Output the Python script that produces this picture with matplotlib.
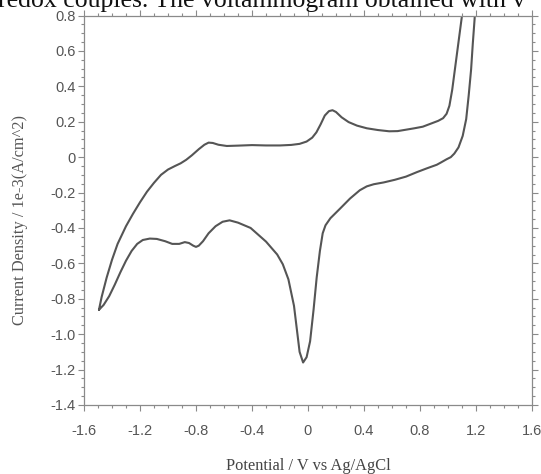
import matplotlib
matplotlib.use("Agg")
import matplotlib.pyplot as plt
from matplotlib.ticker import MultipleLocator, FixedLocator, FixedFormatter

# ---- data ----
anodic_V = [-1.493, -1.474, -1.438, -1.40, -1.36, -1.30, -1.25, -1.20, -1.15, -1.10,
            -1.05, -1.00, -0.95, -0.91, -0.87, -0.83, -0.78, -0.74, -0.71, -0.68,
            -0.64, -0.58, -0.50, -0.40, -0.30, -0.20, -0.12, -0.06, -0.01, 0.03,
            0.06, 0.09, 0.12, 0.15, 0.175, 0.20, 0.24, 0.29, 0.35, 0.42,
            0.50, 0.58, 0.64, 0.70, 0.76, 0.82, 0.88, 0.93, 0.965, 0.99,
            1.01, 1.03, 1.05, 1.07, 1.09, 1.11, 1.12]
anodic_I = [-0.862, -0.79, -0.68, -0.58, -0.49, -0.39, -0.32, -0.255, -0.195, -0.145,
            -0.10, -0.07, -0.05, -0.035, -0.015, 0.01, 0.045, 0.07, 0.082, 0.08,
            0.07, 0.063, 0.065, 0.068, 0.066, 0.066, 0.069, 0.075, 0.088, 0.11,
            0.14, 0.185, 0.235, 0.26, 0.265, 0.255, 0.225, 0.198, 0.178, 0.163,
            0.153, 0.146, 0.147, 0.155, 0.163, 0.172, 0.19, 0.205, 0.22, 0.245,
            0.29, 0.38, 0.50, 0.62, 0.74, 0.86, 0.92]

cathodic_V = [1.20, 1.19, 1.177, 1.165, 1.148, 1.13, 1.105, 1.075, 1.045, 1.02,
              0.99, 0.95, 0.92, 0.85, 0.78, 0.70, 0.62, 0.54, 0.47, 0.42,
              0.37, 0.30, 0.23, 0.16, 0.125, 0.105, 0.085, 0.062, 0.04, 0.015,
              -0.01, -0.035, -0.06, -0.08, -0.10, -0.14, -0.18, -0.22, -0.30, -0.41,
              -0.50, -0.56, -0.61, -0.66, -0.71, -0.75, -0.78, -0.80, -0.82, -0.85,
              -0.88, -0.92, -0.97, -1.02, -1.08, -1.13, -1.18, -1.22, -1.26, -1.30,
              -1.34, -1.38, -1.42, -1.46, -1.493]
cathodic_I = [0.92, 0.78, 0.64, 0.495, 0.35, 0.215, 0.12, 0.055, 0.02, 0.0,
              -0.012, -0.03, -0.043, -0.063, -0.084, -0.11, -0.128, -0.143, -0.153, -0.165,
              -0.187, -0.234, -0.29, -0.345, -0.385, -0.43, -0.53, -0.68, -0.86, -1.04,
              -1.13, -1.16, -1.10, -0.97, -0.84, -0.69, -0.605, -0.55, -0.477, -0.40,
              -0.37, -0.357, -0.365, -0.39, -0.43, -0.475, -0.50, -0.507, -0.50, -0.485,
              -0.48, -0.49, -0.49, -0.475, -0.462, -0.46, -0.468, -0.49, -0.53, -0.585,
              -0.65, -0.72, -0.785, -0.835, -0.862]

x_ticks = [-1.6, -1.2, -0.8, -0.4, 0.0, 0.4, 0.8, 1.2, 1.6]
x_tick_labels = ["-1.6", "-1.2", "-0.8", "-0.4", "0", "0.4", "0.8", "1.2", "1.6"]
y_ticks = [0.8, 0.6, 0.4, 0.2, 0.0, -0.2, -0.4, -0.6, -0.8, -1.0, -1.2, -1.4]
y_tick_labels = ["0.8", "0.6", "0.4", "0.2", "0", "-0.2", "-0.4", "-0.6", "-0.8",
                 "-1.0", "-1.2", "-1.4"]

x_label = "Potential / V vs Ag/AgCl"
y_label = "Current Density / 1e-3(A/cm^2)"
page_text = "redox couples. The voltammogram obtained with v"

# ---- figure ----
W, H = 541, 474
fig = plt.figure(figsize=(W / 100, H / 100), dpi=100)
fig.patch.set_facecolor("white")

ax = fig.add_axes([84 / W, 1 - 405 / H, (532 - 84) / W, (405 - 15.5) / H])
ax.plot(anodic_V + cathodic_V, anodic_I + cathodic_I, color="#555555", lw=1.5,
        solid_joinstyle="round", solid_capstyle="round")

ax.set_xlim(-1.6, 1.6)
ax.set_ylim(-1.4, 0.8)

spine_col = "#8a8a8a"
for s in ax.spines.values():
    s.set_color(spine_col)
    s.set_linewidth(0.9)

ax.xaxis.set_major_locator(FixedLocator(x_ticks))
ax.xaxis.set_major_formatter(FixedFormatter(x_tick_labels))
ax.yaxis.set_major_locator(FixedLocator(y_ticks))
ax.yaxis.set_major_formatter(FixedFormatter(y_tick_labels))
ax.xaxis.set_minor_locator(MultipleLocator(0.1))
ax.yaxis.set_minor_locator(MultipleLocator(0.05))

tick_font = {"family": ["Liberation Sans", "DejaVu Sans"], "size": 10.5}
ax.tick_params(which="both", direction="out", top=True, right=True,
               labeltop=False, labelright=False, color=spine_col, width=0.8)
ax.tick_params(which="major", length=4)
ax.tick_params(which="minor", length=2.5)
ax.tick_params(axis="x", which="major", pad=10, labelcolor="#555555")
ax.tick_params(axis="y", which="major", pad=2, labelcolor="#555555")
for lab in ax.get_xticklabels() + ax.get_yticklabels():
    lab.set_fontfamily(tick_font["family"])
    lab.set_fontsize(tick_font["size"])

serif = ["Liberation Serif", "DejaVu Serif"]
fig.text(308 / W, 1 - 470 / H, x_label, ha="center", va="baseline",
         fontsize=11.8, family=serif, color="#444444")
fig.text(20 / W, 1 - 220 / H, y_label, ha="center", va="center", rotation=90,
         fontsize=11.8, family=serif, color="#555555")

# clipped line of document text at the very top
fig.text(-2 / W, 1 - 6.5 / H, page_text, ha="left", va="baseline",
         fontsize=18.5, family=serif, color="#111111")

fig.savefig("out.png", dpi=100)
